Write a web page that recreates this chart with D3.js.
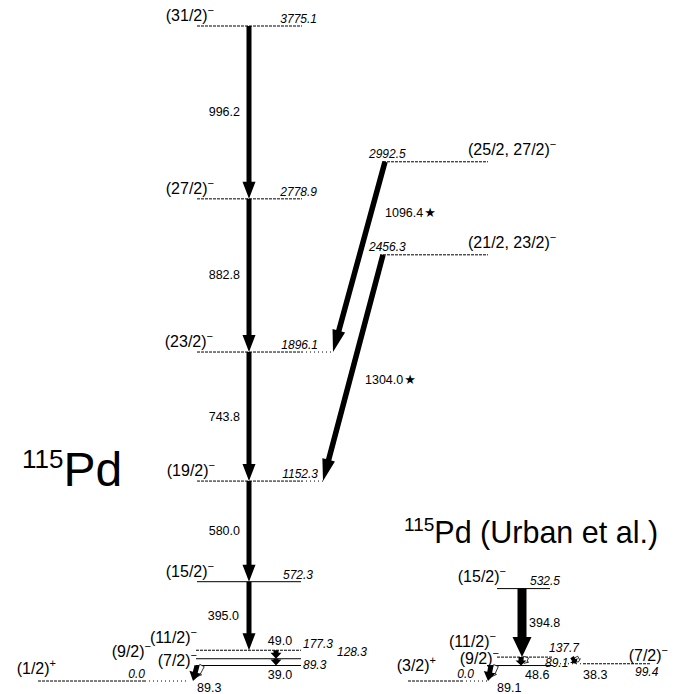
<!DOCTYPE html>
<html><head><meta charset="utf-8">
<script src="https://cdn.jsdelivr.net/npm/d3@7"></script>
<style>body{margin:0;background:#fff}svg{display:block}</style>
</head><body>
<svg id="c" width="684" height="694"></svg>
<script>
// ---------------- DATA ----------------
// 115Pd (this work)
const mainLevelEnergy = [0.0, 89.3, 128.3, 177.3, 572.3, 1152.3, 1896.1, 2778.9, 3775.1];
const mainLevelSpin   = ["1/2", "7/2", "9/2", "11/2", "15/2", "19/2", "23/2", "27/2", "31/2"];
const mainLevelParity = ["+", "−", "−", "−", "−", "−", "−", "−", "−"];
const sideLevelEnergy = [2456.3, 2992.5];
const sideLevelSpin   = ["21/2, 23/2", "25/2, 27/2"];
const sideLevelParity = ["−", "−"];
const mainGammaEnergy = [996.2, 882.8, 743.8, 580.0, 395.0, 49.0, 39.0, 89.3];
const mainGammaFrom   = [3775.1, 2778.9, 1896.1, 1152.3, 572.3, 177.3, 128.3, 89.3];
const sideGammaEnergy = [1096.4, 1304.0];
const sideGammaFrom   = [2992.5, 2456.3];
// 115Pd (Urban et al.)
const urbanLevelEnergy = [0.0, 89.1, 99.4, 137.7, 532.5];
const urbanLevelSpin   = ["3/2", "9/2", "7/2", "11/2", "15/2"];
const urbanLevelParity = ["+", "−", "−", "−", "−"];
const urbanGammaEnergy = [394.8, 48.6, 38.3, 89.1];
const urbanGammaFrom   = [532.5, 137.7, 137.7, 89.1];

// ---------------- LAYOUT ----------------
const svg = d3.select("#c");
const y = d3.scaleLinear().domain([0, 3775.1]).range([681, 26]);
const FONT = "'Liberation Sans', Arial, Helvetica, sans-serif";
const fmt = d3.format(".1f");

// per-level drawing layout, keyed by energy
const levelLayout = {
  main: {
    3775.1: {x1:197, x2:302, dash:true, sx:214, sa:"end", sdy:-5, ex:317, eanchor:"end", edy:-3},
    2778.9: {x1:197, x2:302, dash:true, sx:214, sa:"end", sdy:-5, ex:317, eanchor:"end", edy:-3},
    1896.1: {x1:197, x2:302, dash:true, dots:333, sx:213, sa:"end", sdy:-5, ex:318, eanchor:"end", edy:-3},
    1152.3: {x1:197, x2:302, dash:true, dots:323, sx:215, sa:"end", sdy:-5, ex:318, eanchor:"end", edy:-3},
    572.3:  {x1:197, x2:301, dash:false, sx:214, sa:"end", sdy:-5, ex:313, eanchor:"end", edy:-3},
    177.3:  {x1:196, x2:301, dash:true, sx:197, sa:"end", sdy:-7, ex:303, eanchor:"start", edy:-2},
    128.3:  {x1:196, x2:301, dash:false, sx:151, sa:"end", sdy:-2, ex:337, eanchor:"start", edy:-3},
    89.3:   {x1:196, x2:301, dash:false, sx:197, sa:"end", sdy:0, ex:303, eanchor:"start", edy:3},
    0:      {x1:38, x2:145, dash:true, dotsFrom:145, dots:189, sx:56, sa:"end", sdy:-7, ex:145, eanchor:"end", edy:-3}
  },
  side: {
    2992.5: {x1:383, x2:488, dash:true, sx:468, sa:"start", sdy:-7, ex:369, eanchor:"start", edy:-4},
    2456.3: {x1:383, x2:488, dash:true, sx:468, sa:"start", sdy:-7, ex:369, eanchor:"start", edy:-4}
  },
  urban: {
    532.5: {x1:497, x2:550, dash:false, sx:506, sa:"end", sdy:-7, ex:530, eanchor:"start", edy:-4},
    137.7: {x1:497, x2:553, dash:true, sx:496, sa:"end", sdy:-10, ex:549, eanchor:"start", edy:-5},
    89.1:  {x1:487, x2:553, dash:false, sx:499, sa:"end", sdy:-2, ex:545, eanchor:"start", edy:1.5},
    99.4:  {x1:583, x2:650, dash:true, dotsFrom:560, dotsTo:583, sx:668, sa:"end", sdy:-3, ex:635, eanchor:"start", edy:12},
    0:     {x1:408, x2:462, dash:true, dotsFrom:462, dots:488, sx:436, sa:"end", sdy:-10, ex:474, eanchor:"end", edy:-3.5}
  }
};

function drawLevels(energies, spins, parities, layout) {
  const g = svg.append("g");
  energies.forEach((e, i) => {
    const L = layout[e];
    const yy = y(e);
    g.append("line").attr("x1", L.x1).attr("x2", L.x2).attr("y1", yy).attr("y2", yy)
      .attr("stroke", "#000").attr("stroke-width", 1)
      .attr("stroke-dasharray", L.dash ? "3,1" : null);
    if (L.dots !== undefined || L.dotsTo !== undefined) {
      const a = L.dotsFrom !== undefined ? L.dotsFrom : L.x2;
      const b = L.dotsTo !== undefined ? L.dotsTo : L.dots;
      g.append("line").attr("x1", a).attr("x2", b).attr("y1", yy).attr("y2", yy)
        .attr("stroke", "#000").attr("stroke-width", 1).attr("stroke-dasharray", "1,3");
    }
    const t = g.append("text").attr("x", L.sx).attr("y", yy + L.sdy).attr("text-anchor", L.sa)
      .attr("font-family", FONT).attr("font-size", 16).attr("fill", "#000");
    t.append("tspan").text("(" + spins[i] + ")");
    t.append("tspan").attr("dy", -7).attr("font-size", 11).text(parities[i]);
    g.append("text").attr("x", L.ex).attr("y", yy + L.edy)
      .attr("text-anchor", L.eanchor).attr("font-family", FONT).attr("font-size", 12)
      .attr("font-style", "italic").text(fmt(e));
  });
}

function arrowPts(x1, y1, x2, y2, w, hw, hl) {
  const dx = x2 - x1, dy = y2 - y1, L = Math.hypot(dx, dy);
  const ux = dx / L, uy = dy / L, nx = -uy, ny = ux;
  const bx = x2 - ux * hl, by = y2 - uy * hl;
  return [[x1 + nx * w / 2, y1 + ny * w / 2], [bx + nx * w / 2, by + ny * w / 2],
          [bx + nx * hw / 2, by + ny * hw / 2], [x2, y2],
          [bx - nx * hw / 2, by - ny * hw / 2], [bx - nx * w / 2, by - ny * w / 2],
          [x1 - nx * w / 2, y1 - ny * w / 2]];
}
function arrow(g, p, fill, stroke) {
  g.append("path").attr("d", d3.line()(p) + "Z").attr("fill", fill)
    .attr("stroke", stroke || "none").attr("stroke-width", stroke ? 0.8 : 0);
}
function convArrow(g, x1, y1, x2, y2, w, hw, hl, ww) {
  // white (conversion) part to the right, black (gamma) part on the left
  arrow(g, arrowPts(x1 + ww, y1, x2 + ww * 0.6, y2 - hl * 0.45, ww, ww * 1.6, hl * 0.5), "#fff", "#000");
  arrow(g, arrowPts(x1, y1, x2, y2, w, hw, hl), "#000");
}

// gamma layout keyed by energy
const gammaLayout = {
  996.2: {x1:249, x2:249, w:5, hw:13, hl:17, lx:240, la:"end"},
  882.8: {x1:249, x2:249, w:5, hw:13, hl:17, lx:240, la:"end"},
  743.8: {x1:249, x2:249, w:5, hw:13, hl:17, lx:240, la:"end"},
  580.0: {x1:249, x2:249, w:5, hw:13, hl:17, lx:240, la:"end"},
  395.0: {x1:249, x2:249, w:5, hw:13, hl:17, lx:239, la:"end"},
  49.0:  {x1:276, x2:276, w:5, hw:11, hl:6, lx:280, la:"middle", ly:645},
  39.0:  {x1:276, x2:276, w:5, hw:11, hl:6, lx:280, la:"middle", ly:679},
  89.3:  {x1:197, x2:193, w:5, hw:12, hl:9, conv:5, lx:197, la:"start", ly:692},
  1096.4:{x1:385, x2:333, w:5.5, hw:13, hl:22, lx:385, la:"start", ly:217, star:true},
  1304.0:{x1:383, x2:323, w:5.5, hw:13, hl:22, lx:365, la:"start", ly:384, star:true},
  394.8: {x1:522, x2:522, w:9, hw:19, hl:20, lx:529, la:"start"},
  48.6:  {x1:521, x2:521, w:5, hw:11, hl:5, conv:5, lx:525, la:"start", ly:679},
  38.3:  {x1:572, x2:576, w:4, hw:9, hl:4, conv:4, lx:583, la:"start", ly:679},
  89.1:  {x1:491, x2:488, w:5, hw:12, hl:9, conv:5, lx:497, la:"start", ly:692}
};

function drawGammas(energies, from) {
  const g = svg.append("g");
  energies.forEach((eg, i) => {
    const L = gammaLayout[eg];
    const y1 = y(from[i]), y2 = y(from[i] - eg);
    if (L.conv) convArrow(g, L.x1, y1, L.x2, y2, L.w, L.hw, L.hl, L.conv);
    else arrow(g, arrowPts(L.x1, y1, L.x2, y2, L.w, L.hw, L.hl), "#000");
    const ly = L.ly !== undefined ? L.ly : (y1 + y2) / 2 + 4;
    const t = g.append("text").attr("x", L.lx).attr("y", ly).attr("text-anchor", L.la)
      .attr("font-family", FONT).attr("font-size", 12.5).text(fmt(eg));
    if (L.star) t.append("tspan").attr("font-family", "'DejaVu Sans', sans-serif")
      .attr("font-size", 13).attr("dx", 1).text("★");
  });
}

drawLevels(mainLevelEnergy, mainLevelSpin, mainLevelParity, levelLayout.main);
drawLevels(sideLevelEnergy, sideLevelSpin, sideLevelParity, levelLayout.side);
drawLevels(urbanLevelEnergy, urbanLevelSpin, urbanLevelParity, levelLayout.urban);
drawGammas(mainGammaEnergy, mainGammaFrom);
drawGammas(sideGammaEnergy, sideGammaFrom);
drawGammas(urbanGammaEnergy, urbanGammaFrom);

// nucleus labels
const t1 = svg.append("text").attr("x", 22).attr("y", 486).attr("font-family", FONT);
t1.append("tspan").attr("font-size", 26).attr("dy", -18).text("115");
t1.append("tspan").attr("font-size", 48).attr("dy", 18).text("Pd");
const t2 = svg.append("text").attr("x", 404).attr("y", 543).attr("font-family", FONT);
t2.append("tspan").attr("font-size", 19).attr("dy", -12).text("115");
t2.append("tspan").attr("font-size", 30.5).attr("dy", 12).text("Pd (Urban et al.)");
</script>
</body></html>
